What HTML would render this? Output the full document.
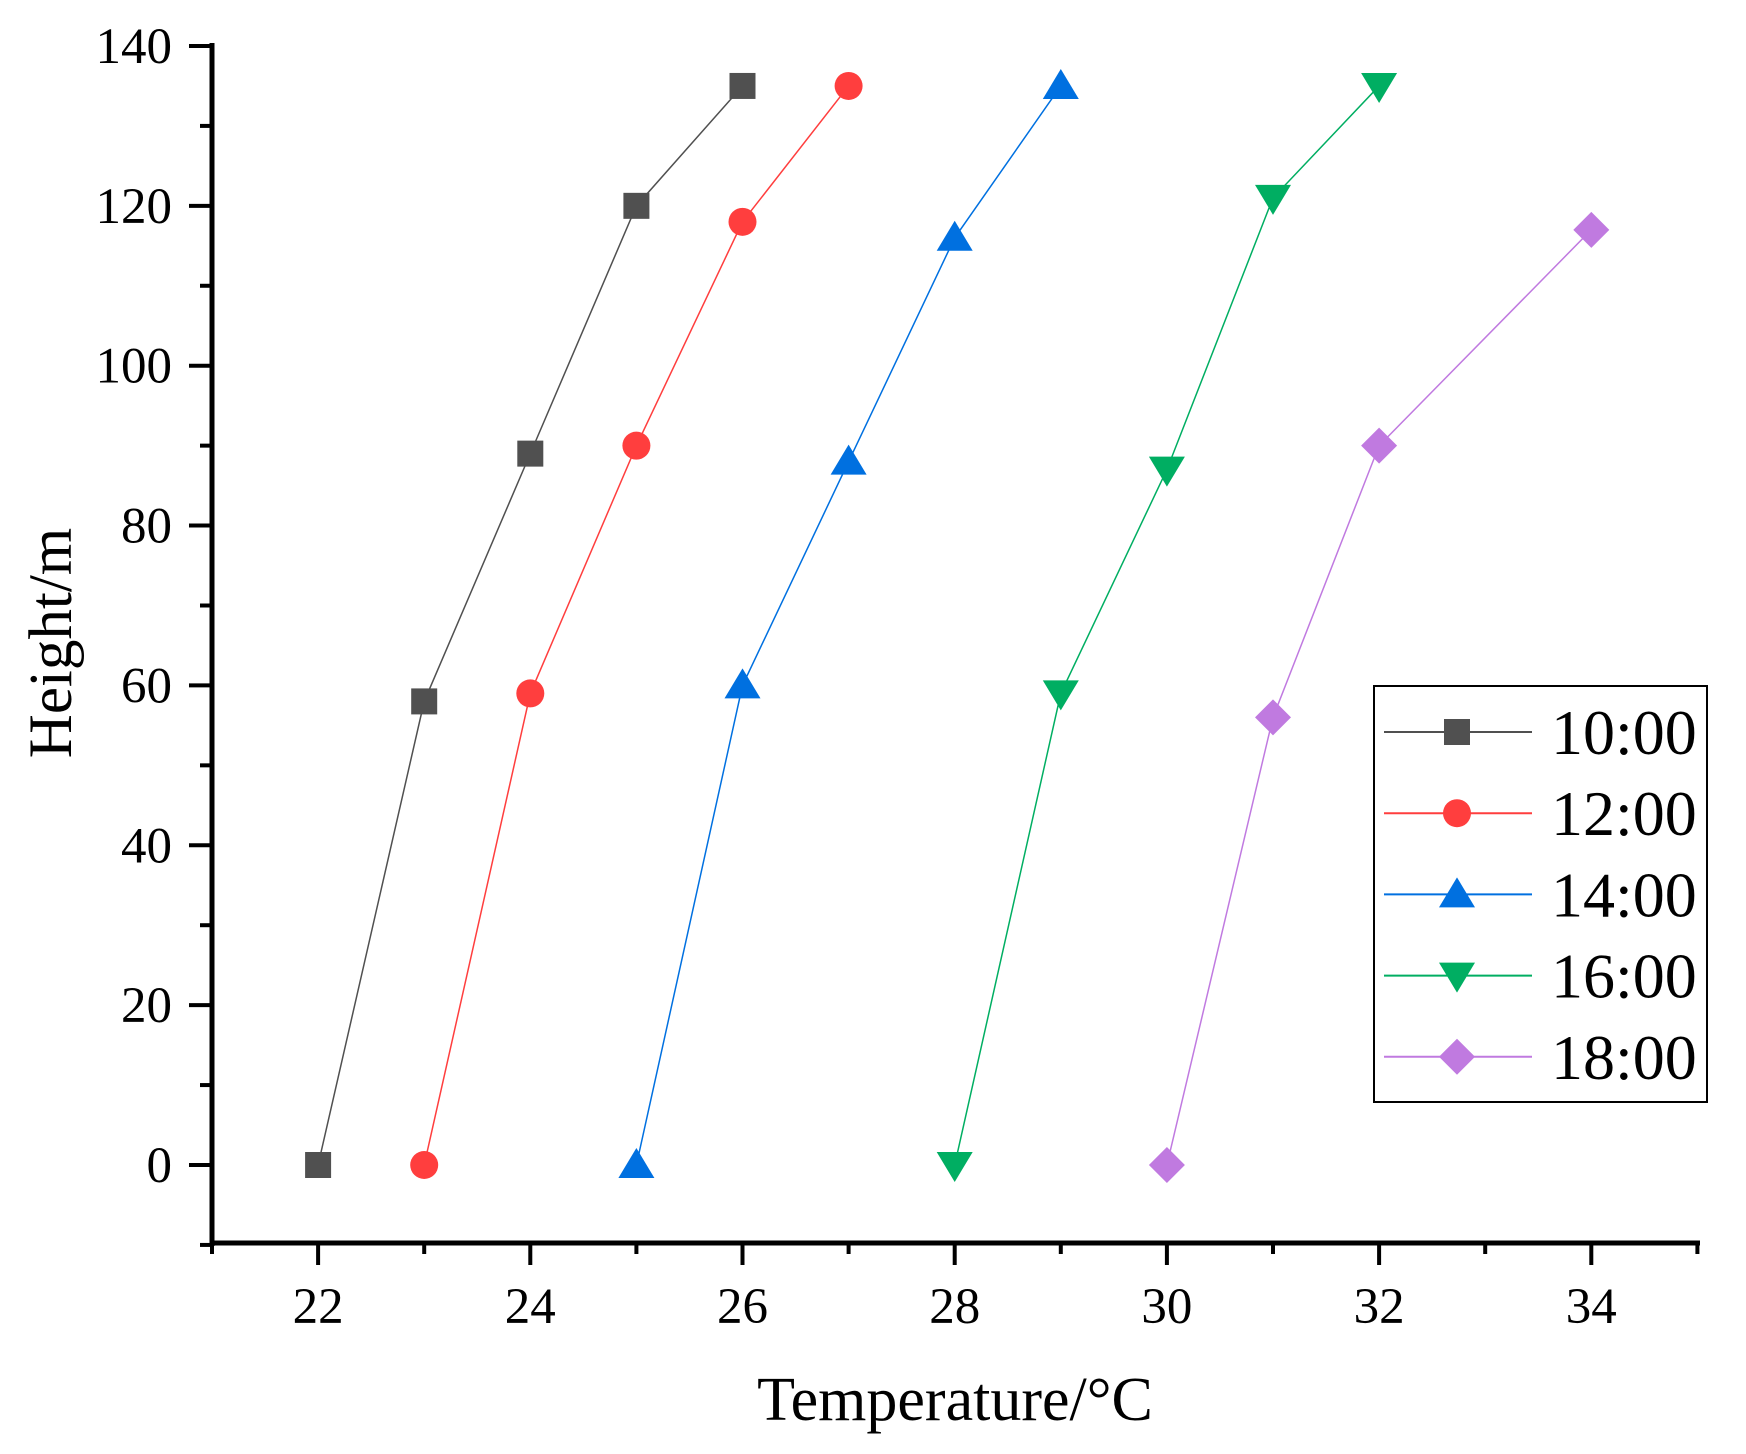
<!DOCTYPE html>
<html><head><meta charset="utf-8"><style>
html,body{margin:0;padding:0;background:#fff}
svg{display:block;font-family:"Liberation Serif",serif}
</style></head><body>
<svg id="chart" width="1746" height="1454" viewBox="0 0 1746 1454" xmlns="http://www.w3.org/2000/svg">
<g id="plot"></g>
<text x="955" y="1420" font-size="62" text-anchor="middle">Temperature/°C</text>
<text transform="translate(71,643) rotate(-90)" font-size="61" text-anchor="middle">Height/m</text>
</svg>
<script>
const seriesNames = ["10:00","12:00","14:00","16:00","18:00"];
const temps1000 = [22,23,24,25,26];
const heights1000 = [0,58,89,120,135];
const temps1200 = [23,24,25,26,27];
const heights1200 = [0,59,90,118,135];
const temps1400 = [25,26,27,28,29];
const heights1400 = [0,60,88,116,135];
const temps1600 = [28,29,30,31,32];
const heights1600 = [0,59,87,121,135];
const temps1800 = [30,31,32,34];
const heights1800 = [0,56,90,117];
const xTicks = [22,24,26,28,30,32,34];
const yTicks = [0,20,40,60,80,100,120,140];

const NS="http://www.w3.org/2000/svg";
const g=document.getElementById('plot');
const X0=212, XMIN=21, XS=106.1;
const Y0=1165, YS=7.993;
const xs=v=>X0+(v-XMIN)*XS;
const ys=v=>Y0-v*YS;
function mk(tag,attrs){const e=document.createElementNS(NS,tag);for(const k in attrs)e.setAttribute(k,attrs[k]);g.appendChild(e);return e;}

let ax=mk('line',{x1:212,y1:43,x2:212,y2:1246,stroke:'#000','stroke-width':5});


ax=mk('line',{x1:210,y1:1243,x2:1700,y2:1243,stroke:'#000','stroke-width':5});



for(let v=-10;v<=140;v+=10){
  const major=v%20===0;
  const t=mk('line',{x1:212-(major?23:12),y1:ys(v),x2:212,y2:ys(v),stroke:'#000','stroke-width':4});
  
  
}
yTicks.forEach(v=>{
  const t=mk('text',{x:172,y:ys(v)+17,'font-size':51,'text-anchor':'end'});
  t.textContent=v;
  
  
});
for(let v=21;v<=35;v+=1){
  const major=v%2===0;
  const t=mk('line',{x1:xs(v),y1:1243,x2:xs(v),y2:1243+(major?22:11),stroke:'#000','stroke-width':4});
  
  
}
xTicks.forEach(v=>{
  const t=mk('text',{x:xs(v),y:1323,'font-size':51,'text-anchor':'middle'});
  t.textContent=v;
  
  
});

const colors=["#505050","#ff3e3e","#0070e0","#00ae62","#c07ae0"];
const shapes=["square","circle","up","down","diamond"];
const data=[[temps1000,heights1000],[temps1200,heights1200],[temps1400,heights1400],[temps1600,heights1600],[temps1800,heights1800]];

function marker(shape,cx,cy,color){
  let e;
  if(shape==='square') e=mk('rect',{x:cx-13,y:cy-13,width:26,height:26,fill:color});
  else if(shape==='circle') e=mk('circle',{cx:cx,cy:cy,r:14,fill:color});
  else if(shape==='up') e=mk('polygon',{points:`${cx},${cy-17} ${cx+18},${cy+13} ${cx-18},${cy+13}`,fill:color});
  else if(shape==='down') e=mk('polygon',{points:`${cx-18},${cy-13} ${cx+18},${cy-13} ${cx},${cy+17}`,fill:color});
  else e=mk('polygon',{points:`${cx},${cy-18} ${cx+18},${cy} ${cx},${cy+18} ${cx-18},${cy}`,fill:color});
  return e;
}

data.forEach((d,i)=>{
  const pts=d[0].map((t,j)=>xs(t)+','+ys(d[1][j])).join(' ');
  const l=mk('polyline',{points:pts,fill:'none',stroke:colors[i],'stroke-width':1.5});
  
  
  d[0].forEach((t,j)=>{
    const m=marker(shapes[i],xs(t),ys(d[1][j]),colors[i]);
    
    
  });
});

const lb=mk('rect',{x:1374,y:686,width:333,height:416,fill:'#fff',stroke:'#000','stroke-width':2});


seriesNames.forEach((n,i)=>{
  const y=732+i*81.2;
  const l=mk('line',{x1:1384,y1:y,x2:1532,y2:y,stroke:colors[i],'stroke-width':2});
  
  
  const m=marker(shapes[i],1457,y,colors[i]);
  
  
  const t=mk('text',{x:1551,y:y+22,'font-size':64});
  t.textContent=n;
  
  
});
</script>
</body></html>
